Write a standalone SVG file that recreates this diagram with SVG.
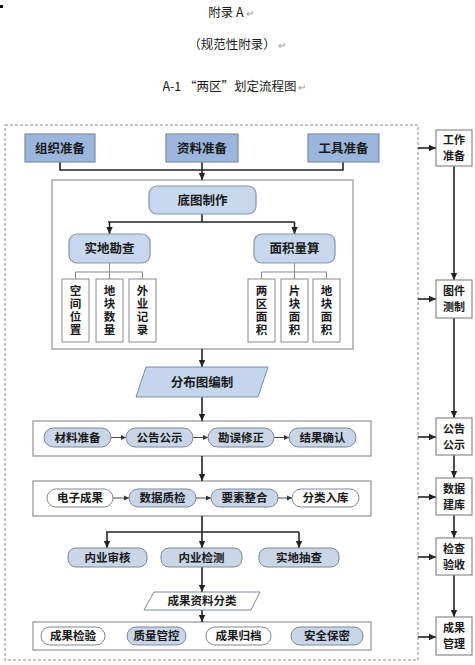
<svg xmlns="http://www.w3.org/2000/svg" width="475" height="665" viewBox="0 0 475 665">
<style>
text{font-family:"Noto Sans CJK SC","Noto Sans",sans-serif;fill:#1a1a1a}
.h{font-size:12.5px;font-weight:normal;text-anchor:middle}
.pm{fill:#999;font-size:10px}
.t{font-size:12.5px;font-weight:bold;text-anchor:middle}
.s{font-size:11.5px;font-weight:bold;text-anchor:middle}
.r{font-size:11px;font-weight:bold;text-anchor:middle}
.v{font-size:11.5px;font-weight:bold;text-anchor:middle;writing-mode:vertical-rl;letter-spacing:1.5px}
.top{fill:#9ab6dc;stroke:#7d8ea3;stroke-width:1.2}
.rnd{fill:#c7d8ee;stroke:#8495aa;stroke-width:1.2}
.pillb{fill:#c9d6e8;stroke:#7d8796;stroke-width:1}
.pillw{fill:#fff;stroke:#7d8796;stroke-width:1}
.grp{fill:#fff;stroke:#9a9a9a;stroke-width:1.3}
.sub{fill:#fff;stroke:#8a8a8a;stroke-width:1}
.rb{fill:#fff;stroke:#8a8a8a;stroke-width:1.2}
.c{fill:none;stroke:#222;stroke-width:1.6}
.ca{fill:none;stroke:#222;stroke-width:1.6;marker-end:url(#ah)}
.cs{fill:none;stroke:#444;stroke-width:1;marker-end:url(#as)}
.br{fill:none;stroke:#8a8a8a;stroke-width:1}
</style>
<defs>
<marker id="ah" markerWidth="8" markerHeight="8" refX="7" refY="4" orient="auto" markerUnits="userSpaceOnUse">
<path d="M0,0.8 L7,4 L0,7.2 Z" fill="#222"/>
</marker>
<marker id="as" markerWidth="6" markerHeight="6" refX="5" refY="3" orient="auto" markerUnits="userSpaceOnUse">
<path d="M0,0.5 L5,3 L0,5.5 Z" fill="#333"/>
</marker>
</defs>
<rect width="475" height="665" fill="#fff"/>
<rect x="0" y="5" width="3" height="3" fill="#111"/>
<g id="header">
<text class="h" x="231" y="17">附录 A<tspan class="pm" dx="2">↵</tspan></text>
<text class="h" x="237" y="49">（规范性附录）<tspan class="pm" dx="2">↵</tspan></text>
<text class="h" x="234" y="91">A-1 “两区”划定流程图<tspan class="pm" dx="1">↵</tspan></text>
</g>
<rect id="outer" x="5" y="125" width="413" height="535" fill="none" stroke="#8c8c8c" stroke-width="1" stroke-dasharray="3,2"/>
<g id="inner"><rect class="grp" x="52" y="180" width="301" height="169"/></g>
<g id="group2"><rect class="grp" x="33" y="421" width="338" height="35"/></g>
<g id="group3"><rect class="grp" x="33" y="481" width="338" height="35"/></g>
<g id="group4"><rect class="grp" x="33" y="622" width="338" height="28"/></g>

<g id="connectors">
<path class="c" d="M60,162 V170 H343 V162"/>
<path class="ca" d="M202,162 V180"/>
<path class="c" d="M202,214 V222 M108,222 H294.5"/>
<path class="ca" d="M109.5,222 V234"/>
<path class="ca" d="M294.5,222 V234"/>
<path class="br" d="M109.5,263 V272 M75.5,272 H142.5 M75.5,272 V279 M109.5,272 V279 M142.5,272 V279"/>
<path class="br" d="M294.5,263 V272 M261.5,272 H326.5 M261.5,272 V279 M294.5,272 V279 M326.5,272 V279"/>
<path class="ca" d="M202,349 V367"/>
<path class="ca" d="M202,397 V421"/>
<path class="cs" d="M111,437.5 H126"/>
<path class="cs" d="M193,437.5 H208"/>
<path class="cs" d="M274,437.5 H289"/>
<path class="ca" d="M202,456 V481"/>
<path class="cs" d="M113,498 H129"/>
<path class="cs" d="M196,498 H211"/>
<path class="cs" d="M278,498 H292"/>
<path class="c" d="M202,516 V532 M106,532 H299"/>
<path class="ca" d="M107,532 V548"/>
<path class="ca" d="M202,532 V548"/>
<path class="ca" d="M299,532 V548"/>
<path class="ca" d="M202,567 V592"/>
<path class="ca" d="M202,610 V622"/>
<path class="ca" d="M418,148 H436"/>
<path class="ca" d="M418,299 H436"/>
<path class="ca" d="M418,437 H436"/>
<path class="ca" d="M418,497 H436"/>
<path class="ca" d="M418,557 H436"/>
<path class="ca" d="M418,637 H436"/>
<path class="ca" d="M454,166 V280"/>
<path class="ca" d="M454,318 V418"/>
<path class="ca" d="M454,455 V478"/>
<path class="ca" d="M454,515 V538"/>
<path class="ca" d="M454,575 V617"/>
</g>

<g id="n-zuzhi"><rect class="top" x="25" y="134" width="70" height="28"/><text class="t" x="60" y="152.5">组织准备</text></g>
<g id="n-ziliao"><rect class="top" x="166" y="134" width="72" height="28"/><text class="t" x="202" y="152.5">资料准备</text></g>
<g id="n-gongju"><rect class="top" x="308" y="134" width="71" height="28"/><text class="t" x="343.5" y="152.5">工具准备</text></g>
<g id="n-ditu"><rect class="rnd" x="149" y="186" width="107" height="28" rx="8"/><text class="t" x="202.5" y="204.5">底图制作</text></g>
<g id="n-shidi"><rect class="rnd" x="69" y="234" width="81" height="29" rx="8"/><text class="t" x="109.5" y="253">实地勘查</text></g>
<g id="n-mianji"><rect class="rnd" x="254" y="234" width="81" height="29" rx="8"/><text class="t" x="294.5" y="253">面积量算</text></g>

<g id="n-kongjian"><rect class="sub" x="62" y="279" width="27" height="63"/><text class="v" x="75.5" y="311">空间位置</text></g>
<g id="n-dikuai1"><rect class="sub" x="96" y="279" width="27" height="63"/><text class="v" x="109.5" y="311">地块数量</text></g>
<g id="n-waiye"><rect class="sub" x="129" y="279" width="27" height="63"/><text class="v" x="142.5" y="311">外业记录</text></g>
<g id="n-liangqu"><rect class="sub" x="248" y="279" width="27" height="63"/><text class="v" x="261.5" y="311">两区面积</text></g>
<g id="n-pian"><rect class="sub" x="281" y="279" width="27" height="63"/><text class="v" x="294.5" y="311">片块面积</text></g>
<g id="n-dikuai2"><rect class="sub" x="313" y="279" width="27" height="63"/><text class="v" x="326.5" y="311">地块面积</text></g>

<g id="n-fenbu"><polygon points="146,367 268,367 258,397 136,397" fill="#c3d6ee" stroke="#7d8ea3" stroke-width="1"/><text class="t" x="202" y="386.5">分布图编制</text></g>

<g id="n-cailiao"><rect class="pillb" x="44" y="428" width="67" height="19" rx="9.5"/><text class="s" x="77.5" y="441.5">材料准备</text></g>
<g id="n-gonggao"><rect class="pillb" x="126" y="428" width="67" height="19" rx="9.5"/><text class="s" x="159.5" y="441.5">公告公示</text></g>
<g id="n-kanwu"><rect class="pillb" x="208" y="428" width="66" height="19" rx="9.5"/><text class="s" x="241" y="441.5">勘误修正</text></g>
<g id="n-jieguo"><rect class="pillb" x="289" y="428" width="67" height="19" rx="9.5"/><text class="s" x="322.5" y="441.5">结果确认</text></g>

<g id="n-dianzi"><rect class="pillw" x="47" y="489" width="66" height="18" rx="9"/><text class="s" x="80" y="502">电子成果</text></g>
<g id="n-shuju"><rect class="pillb" x="129" y="489" width="67" height="18" rx="9"/><text class="s" x="162.5" y="502">数据质检</text></g>
<g id="n-yaosu"><rect class="pillb" x="211" y="489" width="67" height="18" rx="9"/><text class="s" x="244.5" y="502">要素整合</text></g>
<g id="n-fenlei"><rect class="pillw" x="292" y="489" width="67" height="18" rx="9"/><text class="s" x="325.5" y="502">分类入库</text></g>

<g id="n-neiyeshen"><rect class="pillb" x="68" y="548" width="79" height="19" rx="8"/><text class="s" x="107.5" y="561.5">内业审核</text></g>
<g id="n-neiyejian"><rect class="pillb" x="161" y="548" width="81" height="19" rx="8"/><text class="s" x="201.5" y="561.5">内业检测</text></g>
<g id="n-choucha"><rect class="pillb" x="259" y="548" width="80" height="19" rx="8"/><text class="s" x="299" y="561.5">实地抽查</text></g>

<g id="n-chengguofenlei"><polygon points="154,592 260,592 251,610 144,610" fill="#fff" stroke="#7d8796" stroke-width="1"/><text class="s" x="202" y="605">成果资料分类</text></g>

<g id="n-jianyan"><rect class="pillw" x="41" y="627" width="64" height="18" rx="9"/><text class="s" x="73" y="640">成果检验</text></g>
<g id="n-zhiliang"><rect class="pillb" x="127" y="627" width="59" height="18" rx="9"/><text class="s" x="156.5" y="640">质量管控</text></g>
<g id="n-guidang"><rect class="pillw" x="206" y="627" width="65" height="18" rx="9"/><text class="s" x="238.5" y="640">成果归档</text></g>
<g id="n-baomi"><rect class="pillb" x="291" y="627" width="72" height="18" rx="9"/><text class="s" x="327" y="640">安全保密</text></g>

<g id="r-gongzuo"><rect class="rb" x="436" y="130" width="36" height="36"/><text class="r" x="454" y="144">工作</text><text class="r" x="454" y="160">准备</text></g>
<g id="r-tujian"><rect class="rb" x="436" y="280" width="36" height="38"/><text class="r" x="454" y="295">图件</text><text class="r" x="454" y="311">测制</text></g>
<g id="r-gonggao"><rect class="rb" x="436" y="418" width="36" height="37"/><text class="r" x="454" y="432.5">公告</text><text class="r" x="454" y="448.5">公示</text></g>
<g id="r-shuju"><rect class="rb" x="436" y="478" width="36" height="37"/><text class="r" x="454" y="492.5">数据</text><text class="r" x="454" y="508.5">建库</text></g>
<g id="r-jiancha"><rect class="rb" x="436" y="538" width="36" height="37"/><text class="r" x="454" y="552.5">检查</text><text class="r" x="454" y="568.5">验收</text></g>
<g id="r-chengguo"><rect class="rb" x="436" y="617" width="36" height="38"/><text class="r" x="454" y="632">成果</text><text class="r" x="454" y="648">管理</text></g>
</svg>
